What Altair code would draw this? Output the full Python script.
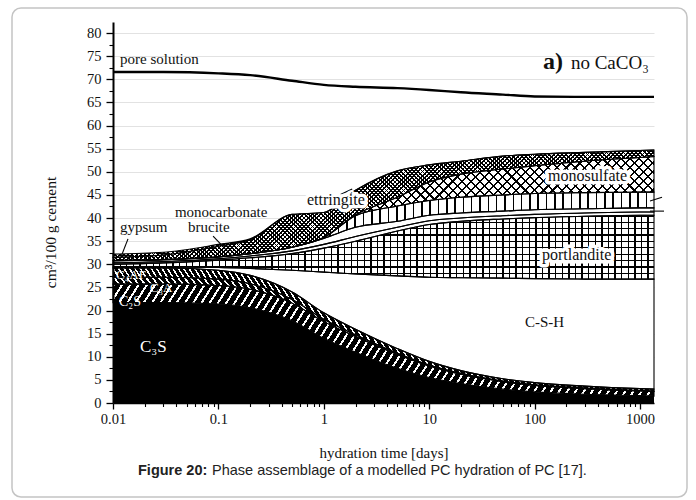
import math
import pandas as pd
import altair as alt

# ---------------- data (cm3 / 100 g cement, thickness of each phase) ----------------
T = [0.01, 0.03, 0.1, 0.2, 0.5, 1, 2, 5, 10, 20, 50, 100, 300, 1000, 1358]

C3S = [21.7, 21.7, 21.4, 20.6, 17.8, 14.0, 11.0, 7.5, 5.5, 4.2, 3.0, 2.4, 1.9, 1.6, 1.5]
C2S = [4.0, 4.0, 4.0, 4.0, 3.8, 3.6, 3.4, 3.0, 2.5, 2.0, 1.6, 1.4, 1.2, 1.0, 1.0]
C3A = [1.5, 1.5, 1.4, 1.2, 0.8, 0.5, 0.35, 0.25, 0.2, 0.2, 0.15, 0.15, 0.15, 0.1, 0.1]
C4AF = [2.0, 2.0, 1.9, 1.8, 1.6, 1.4, 1.2, 1.0, 0.8, 0.6, 0.5, 0.45, 0.4, 0.4, 0.4]
CSH = [0.2, 0.2, 0.6, 1.5, 4.7, 8.8, 11.95, 15.75, 18.2, 20.1, 21.75, 22.5, 23.15, 23.7, 23.8]
PORTLANDITE = [0.6, 0.9, 1.6, 2.3, 3.6, 5.2, 7.1, 9.7, 11.4, 12.2, 12.8, 13.2, 13.6, 13.8, 13.8]
BRUCITE = [0.3, 0.3, 0.3, 0.4, 0.6, 0.8, 1.0, 0.8, 0.8, 0.7, 0.7, 0.7, 0.7, 0.7, 0.7]
MONOCARBONATE = [0.5, 0.4, 0.4, 0.5, 0.8, 1.3, 2.0, 1.3, 1.2, 1.1, 1.0, 1.0, 0.9, 0.9, 0.9]
HYDROTALCITE = [0, 0, 0, 0, 0, 0.2, 2.5, 3.3, 3.2, 3.4, 3.5, 3.5, 3.5, 3.4, 3.4]
MONOSULFATE = [0, 0, 0, 0, 0, 0, 0.2, 1.9, 4.0, 5.0, 5.6, 6.0, 6.8, 7.5, 7.7]
ETTRINGITE = [0.7, 1.0, 2.3, 3.0, 7.1, 5.4, 5.3, 5.7, 3.7, 2.8, 2.8, 2.5, 1.9, 1.5, 1.4]
GYPSUM = [0.7, 0.6, 0.4, 0.2, 0, 0, 0, 0, 0, 0, 0, 0, 0, 0, 0]
PORE_SOLUTION = [71.6, 71.6, 71.3, 70.9, 69.7, 68.8, 68.4, 68.1, 67.7, 67.2, 66.7, 66.3, 66.2, 66.2, 66.2]

X_MAJOR = [0.01, 0.1, 1, 10, 100, 1000]
X_MINOR = [k * 10.0 ** e for e in range(-2, 4) for k in range(2, 10) if k * 10.0 ** e < 1358]
Y_MAJOR = list(range(0, 81, 5))
Y_MINOR = [2.5 + 5 * i for i in range(16)]

# labels placed in data coordinates (time, volume)
LABEL_TEXT = ["pore solution", "gypsum", "monocarbonate", "brucite", "C-S-H"]
LABEL_T = [0.01165, 0.01165, 0.0387, 0.0515, 81]
LABEL_V = [73.3, 37.0, 40.3, 36.9, 16.4]

BOX_TEXT = ["ettringite", "monosulfate", "portlandite"]
BOX_T = [0.693, 134, 117.5]
BOX_V = [42.8, 48.0, 30.9]

CLINKER_TEXT = ["C\u2083S", "C\u2082S", "C\u2083A", "C\u2084AF"]
CLINKER_T = [0.018, 0.0114, 0.0224, 0.0107]
CLINKER_V = [11.0, 21.0, 24.0, 26.8]
CLINKER_SIZE = [17, 14, 13, 13]

ARROW_T = [0.01388, 0.0890, 1.36, 1245, 1245]
ARROW_V = [35.5, 36.1, 44.8, 43.7, 41.5]
ARROW_T2 = [0.01191, 0.1347, 1.86, 1618, 1690]
ARROW_V2 = [31.6, 31.8, 46.3, 44.5, 41.5]

# ---------------- layout / style ----------------
SERIF = "Liberation Serif"
SANS = "Liberation Sans"
PLOT_W, PLOT_H = 541, 381
LEFT, TOP = 113, 22
X_MIN, X_MAX = 0.01, 1358
Y_MAX = 82.4

xs = alt.Scale(type="log", domain=[X_MIN, X_MAX], nice=False)
ys = alt.Scale(domain=[0, Y_MAX], nice=False, zero=False)

PHASES = [
    ("C3S", C3S), ("C2S", C2S), ("C3A", C3A), ("C4AF", C4AF), ("C-S-H", CSH),
    ("portlandite", PORTLANDITE), ("brucite", BRUCITE), ("monocarbonate", MONOCARBONATE),
    ("hydrotalcite", HYDROTALCITE), ("monosulfate", MONOSULFATE),
    ("ettringite", ETTRINGITE), ("gypsum", GYPSUM),
]

WHITE0 = "rgba(255,255,255,0)"
BLACK0 = "rgba(0,0,0,0)"
STYLE = {
    "C3S": ("black", []),
    "C2S": ("black", [(58, 7.0, 2.0, "white", WHITE0)]),
    "C3A": ("black", [(128, 5.0, 1.6, "white", WHITE0)]),
    "C4AF": ("black", [(122, 4.6, 1.5, "white", WHITE0)]),
    "C-S-H": ("white", []),
    "portlandite": ("white", [(90, 6.6, 1.3, "black", BLACK0), (0, 6.2, 1.3, "black", BLACK0)]),
    "brucite": ("white", []),
    "monocarbonate": ("white", []),
    "hydrotalcite": ("white", [(90, 8.3, 1.6, "black", BLACK0)]),
    "monosulfate": ("white", [(45, 6.4, 1.5, "black", BLACK0), (135, 6.4, 1.5, "black", BLACK0)]),
    "ettringite": ("white", [(45, 3.0, 1.3, "black", BLACK0), (135, 3.0, 1.3, "black", BLACK0)]),
    "gypsum": ("white", [(45, 3.0, 1.3, "black", BLACK0), (135, 3.0, 1.3, "black", BLACK0)]),
}


def stripe_fill(angle, spacing, width, color, bg, W, H):
    """Linear gradient (bbox units) that draws parallel stripes at a given screen angle."""
    th = math.radians(angle)
    nx, ny = math.sin(th), math.cos(th)
    if abs(nx) < 1e-9:
        nx = 0.0
    if abs(ny) < 1e-9:
        ny = 0.0
    L = abs(nx) * W + abs(ny) * H
    n = max(1, int(round(L / spacing)))
    A, B = nx * W / L, ny * H / L
    g2 = A * A + B * B
    u0 = 0.0 if nx >= 0 else 1.0
    w0 = 0.0 if ny >= 0 else 1.0
    x2 = u0 + A / g2
    y2 = w0 + B / g2
    f = min(0.9, width / (L / n))
    stops = []
    for i in range(n):
        s = round(i / n, 6)
        e = round((i + f) / n, 6)
        nx_ = round((i + 1) / n, 6)
        stops += [
            {"offset": s, "color": color},
            {"offset": e, "color": color},
            {"offset": e, "color": bg},
            {"offset": nx_, "color": bg},
        ]
    return {"gradient": "linear", "x1": u0, "y1": w0, "x2": round(x2, 6),
            "y2": round(y2, 6), "stops": stops}


axis_common = dict(labelFont=SERIF, labelColor="#111", titleFont=SERIF, titleColor="#111",
                   titleFontWeight="normal", tickColor="black", domainColor="black")

major_x = alt.Axis(values=X_MAJOR, format="~g", orient="bottom", title="hydration time [days]",
                   labelFontSize=14.5, titleFontSize=15, tickSize=6, tickWidth=1.3,
                   domainWidth=1.5, labelPadding=3, grid=False, titlePadding=20,
                   zindex=1, labelFlush=False, labelOverlap=False, **axis_common)
major_y = alt.Axis(values=Y_MAJOR, orient="left", title="cm\u00b3/100 g cement",
                   labelFontSize=14.5, titleFontSize=15.5, tickSize=7, tickWidth=1.3,
                   domainWidth=2, labelPadding=5, grid=False, titleX=-63, titleY=210,
                   titleAngle=270, titleAlign="center", titleBaseline="middle",
                   zindex=1, labelOverlap=False, labelFlush=False, **axis_common)
minor_x = alt.Axis(values=X_MINOR, orient="bottom", labels=False, domain=False, title=None,
                   tickSize=3.5, tickWidth=1.1, tickColor="black", grid=False, zindex=1)
minor_y = alt.Axis(values=Y_MINOR, orient="left", labels=False, domain=False, title=None,
                   tickSize=4, tickWidth=1.1, tickColor="black", grid=False, zindex=1)
grid_y = alt.Axis(values=Y_MAJOR, orient="left", labels=False, domain=False, ticks=False,
                  title=None, grid=True, gridColor="#e2e2e2", gridWidth=1, zindex=0)

pore_df = pd.DataFrame({"t": T, "v": PORE_SOLUTION})

layers = []
# grid (behind everything)
layers.append(alt.Chart(pore_df).mark_point(opacity=0).encode(
    x=alt.X("t:Q", scale=xs, axis=None), y=alt.Y("v:Q", scale=ys, axis=grid_y)))

cum = [0.0] * len(T)
tables = {}
for name, vals in PHASES:
    hi = [a + b for a, b in zip(cum, vals)]
    tables[name] = pd.DataFrame({"t": T, "lo": cum, "hi": hi})
    cum = hi

first = True
for name, _ in PHASES:
    tab = tables[name]
    base, overlays = STYLE[name]
    W = PLOT_W
    H = (max(tab["hi"]) - min(tab["lo"])) * PLOT_H / Y_MAX
    if first:
        enc = dict(x=alt.X("t:Q", scale=xs, axis=major_x), y=alt.Y("lo:Q", scale=ys, axis=major_y), y2="hi:Q")
        first = False
    else:
        enc = dict(x=alt.X("t:Q", scale=xs, axis=None), y=alt.Y("lo:Q", scale=ys, axis=None), y2="hi:Q")
    layers.append(alt.Chart(tab).mark_area(fill=base, interpolate="monotone").encode(**enc))
    for (ang, sp, wd, col, bg) in overlays:
        grad = stripe_fill(ang, sp, wd, col, bg, W, H)
        layers.append(alt.Chart(tab).mark_area(fill=grad, interpolate="monotone").encode(
            x=alt.X("t:Q", scale=xs, axis=None), y=alt.Y("lo:Q", scale=ys, axis=None), y2="hi:Q"))

for name, _ in PHASES[1:]:
    tab = tables[name]
    layers.append(alt.Chart(tab).mark_area(interpolate="monotone", fillOpacity=0, stroke="black",
                                           strokeWidth=1.1).encode(
        x=alt.X("t:Q", scale=xs, axis=None), y=alt.Y("lo:Q", scale=ys, axis=None), y2="hi:Q"))

# pore solution line + minor axes
layers.append(alt.Chart(pore_df).mark_line(color="black", strokeWidth=2.4, interpolate="monotone").encode(
    x=alt.X("t:Q", scale=xs, axis=minor_x), y=alt.Y("v:Q", scale=ys, axis=minor_y)))

# arrows
arrow_df = pd.DataFrame({"t": ARROW_T, "v": ARROW_V, "t2": ARROW_T2, "v2": ARROW_V2})
layers.append(alt.Chart(arrow_df).mark_rule(color="black", strokeWidth=1.1).encode(
    x=alt.X("t:Q", scale=xs, axis=None), x2="t2:Q", y=alt.Y("v:Q", scale=ys, axis=None), y2="v2:Q"))

# labels
lab_df = pd.DataFrame({"t": LABEL_T, "v": LABEL_V, "label": LABEL_TEXT})
layers.append(alt.Chart(lab_df).mark_text(font=SERIF, fontSize=15, color="#111", align="left",
                                          baseline="alphabetic").encode(
    x=alt.X("t:Q", scale=xs, axis=None), y=alt.Y("v:Q", scale=ys, axis=None), text="label:N"))

box_df = pd.DataFrame({"t": BOX_T, "v": BOX_V, "label": BOX_TEXT})
layers.append(alt.Chart(box_df).mark_text(font=SERIF, fontSize=16, color="white", stroke="white",
                                          strokeWidth=7, strokeJoin="round", align="left",
                                          baseline="alphabetic").encode(
    x=alt.X("t:Q", scale=xs, axis=None), y=alt.Y("v:Q", scale=ys, axis=None), text="label:N"))
layers.append(alt.Chart(box_df).mark_text(font=SERIF, fontSize=16, color="#111", align="left",
                                          baseline="alphabetic").encode(
    x=alt.X("t:Q", scale=xs, axis=None), y=alt.Y("v:Q", scale=ys, axis=None), text="label:N"))

cl_df = pd.DataFrame({"t": CLINKER_T, "v": CLINKER_V, "label": CLINKER_TEXT, "size": CLINKER_SIZE})
layers.append(alt.Chart(cl_df).mark_text(font=SERIF, color="white", align="left",
                                         baseline="alphabetic").encode(
    x=alt.X("t:Q", scale=xs, axis=None), y=alt.Y("v:Q", scale=ys, axis=None), text="label:N",
    size=alt.Size("size:Q", scale=None, legend=None)))

# panel title
title_df = pd.DataFrame({"t": [120], "v": [72.2], "label": ["a)"]})
layers.append(alt.Chart(title_df).mark_text(font=SERIF, fontSize=24, fontWeight="bold", color="#111",
                                            align="left", baseline="alphabetic").encode(
    x=alt.X("t:Q", scale=xs, axis=None), y=alt.Y("v:Q", scale=ys, axis=None), text="label:N"))
title2_df = pd.DataFrame({"t": [221], "v": [72.2], "label": ["no CaCO\u2083"]})
layers.append(alt.Chart(title2_df).mark_text(font=SERIF, fontSize=19, color="#111",
                                             align="left", baseline="alphabetic").encode(
    x=alt.X("t:Q", scale=xs, axis=None), y=alt.Y("v:Q", scale=ys, axis=None), text="label:N"))

# outer frame and caption (page decoration, in pixels relative to plot origin)
one = pd.DataFrame({"a": [0]})
layers.append(alt.Chart(one).mark_rect(filled=False, stroke="#c4c4c4", strokeWidth=1.5,
                                       cornerRadius=9).encode(
    x=alt.value(12 - LEFT), x2=alt.value(687 - LEFT), y=alt.value(8 - TOP), y2=alt.value(497 - TOP)))
layers.append(alt.Chart(one).mark_text(font=SANS, fontSize=14.5, fontWeight="bold", color="#222",
                                       align="left", baseline="alphabetic").encode(
    x=alt.value(138 - LEFT), y=alt.value(475 - TOP), text=alt.value("Figure 20:")))
layers.append(alt.Chart(one).mark_text(font=SANS, fontSize=14.5, color="#222",
                                       align="left", baseline="alphabetic").encode(
    x=alt.value(212 - LEFT), y=alt.value(475 - TOP),
    text=alt.value("Phase assemblage of a modelled PC hydration of PC [17].")))

chart = alt.layer(*layers).properties(
    width=PLOT_W, height=PLOT_H,
    autosize=alt.AutoSizeParams(type="none"),
    padding={"left": LEFT, "top": TOP, "right": 696 - LEFT - PLOT_W, "bottom": 500 - TOP - PLOT_H},
    background="white",
).resolve_axis(x="independent", y="independent").configure_view(strokeOpacity=0)

chart.save("out.html", embed_options={"renderer": "svg", "actions": False})
